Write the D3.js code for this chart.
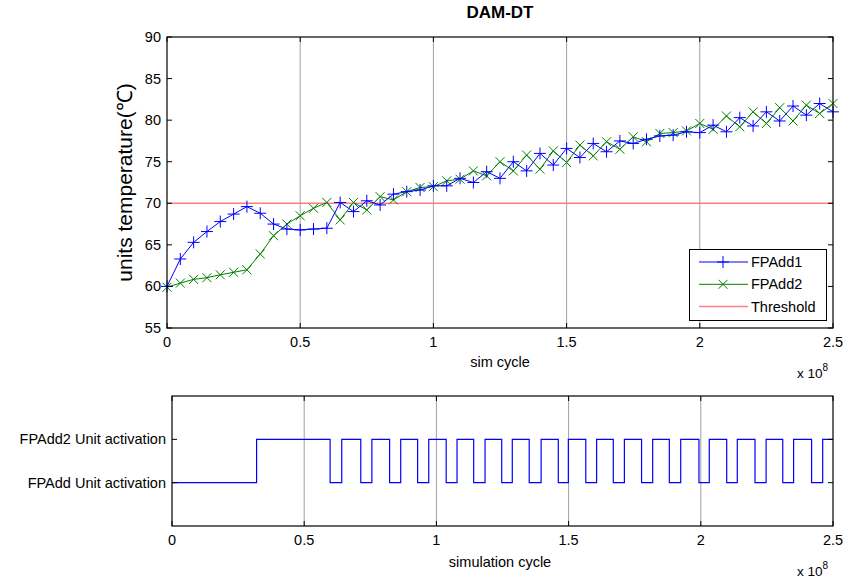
<!DOCTYPE html>
<head>
<meta charset="utf-8">
<title>DAM-DT</title>
<script src="https://d3js.org/d3.v7.min.js"></script>
<style>
body { margin: 0; background: #fff; }
text { font-family: "Liberation Sans", Arial, sans-serif; }
</style>
</head>
<body>
<div id="container"></div>
<script>
//----------------------------DATA------------------------------//
// sample points, in units of 1e8 cycles
const cycles = [0, 0.05, 0.1, 0.15, 0.2, 0.25, 0.3, 0.35, 0.4, 0.45,
  0.5, 0.55, 0.6, 0.65, 0.7, 0.75, 0.8, 0.85, 0.9, 0.95,
  1.0, 1.05, 1.1, 1.15, 1.2, 1.25, 1.3, 1.35, 1.4, 1.45,
  1.5, 1.55, 1.6, 1.65, 1.7, 1.75, 1.8, 1.85, 1.9, 1.95,
  2.0, 2.05, 2.1, 2.15, 2.2, 2.25, 2.3, 2.35, 2.4, 2.45, 2.5];
const fpadd1 = [60.0, 63.3, 65.3, 66.6, 67.8, 68.7, 69.6, 68.8, 67.5, 66.9,
  66.8, 66.9, 67.0, 70.1, 69.0, 70.3, 69.8, 71.1, 71.4, 71.6,
  72.1, 72.1, 73.0, 72.5, 73.8, 73.0, 75.0, 73.9, 76.0, 74.6,
  76.6, 75.5, 77.2, 76.2, 77.5, 77.2, 77.7, 78.1, 78.2, 78.6,
  78.5, 79.4, 78.6, 80.3, 79.3, 81.0, 79.9, 81.7, 80.6, 82.0, 81.0];
const fpadd2 = [59.9, 60.4, 60.85, 61.05, 61.4, 61.7, 62.0, 63.9, 66.1, 67.5,
  68.5, 69.4, 70.1, 68.0, 70.1, 69.2, 70.8, 70.4, 71.4, 71.9,
  72.0, 72.7, 72.9, 73.9, 73.3, 75.0, 73.9, 75.8, 74.1, 76.3,
  74.9, 77.0, 75.7, 77.4, 76.5, 78.0, 77.4, 78.4, 78.5, 78.7,
  79.6, 78.9, 80.5, 79.2, 81.0, 79.6, 81.5, 79.9, 81.8, 80.8, 82.0];
const threshold = 70;

// activation switching times (1e8 cycles) and the unit that is active after each
const switchTimes = [0, 0.32, 0.598, 0.642, 0.714, 0.756, 0.823, 0.865, 0.929, 0.971,
  1.037, 1.078, 1.141, 1.184, 1.247, 1.287, 1.351, 1.396, 1.461, 1.499,
  1.565, 1.606, 1.669, 1.711, 1.776, 1.818, 1.881, 1.924, 1.993, 2.032,
  2.098, 2.138, 2.205, 2.247, 2.310, 2.351, 2.419, 2.461, 2.5];
const activeUnit = [1, 2, 1, 2, 1, 2, 1, 2, 1, 2,
  1, 2, 1, 2, 1, 2, 1, 2, 1, 2,
  1, 2, 1, 2, 1, 2, 1, 2, 1, 2,
  1, 2, 1, 2, 1, 2, 1, 2, 2];

const xTicks = [0, 0.5, 1, 1.5, 2, 2.5];
const yTicksTop = [55, 60, 65, 70, 75, 80, 85, 90];
const unitTicks = [1, 2];
const unitLabels = {1: "FPAdd Unit activation", 2: "FPAdd2 Unit activation"};
const legendNames = ["FPAdd1", "FPAdd2", "Threshold"];

//----------------------------SVG-------------------------------//
const W = 849, H = 580;
const svg = d3.select("#container").append("svg")
    .attr("width", W).attr("height", H);

const top1 = {l: 167, r: 833, t: 37, b: 328};
const bot = {l: 172, r: 833, t: 396, b: 526};

const x1 = d3.scaleLinear().domain([0, 2.5]).range([top1.l, top1.r]);
const y1 = d3.scaleLinear().domain([55, 90]).range([top1.b, top1.t]);
const x2 = d3.scaleLinear().domain([0, 2.5]).range([bot.l, bot.r]);
const y2 = d3.scaleLinear().domain([0, 3]).range([bot.b, bot.t]);

const blue = "#0000ff", green = "#008000", pink = "#ff7f7f";
const fs = 14.5;

function grid(x, box) {
  svg.append("g").selectAll("line").data(xTicks.slice(1, -1)).enter().append("line")
      .attr("x1", d => x(d)).attr("x2", d => x(d))
      .attr("y1", box.t).attr("y2", box.b)
      .attr("stroke", "#a0a0a0").attr("stroke-width", 1);
}

function axes(x, y, box, yt, yfmt) {
  const g = svg.append("g");
  const tl = 5;
  // inward ticks on all four sides
  xTicks.forEach(function(d) {
    g.append("line").attr("x1", x(d)).attr("x2", x(d))
        .attr("y1", box.b).attr("y2", box.b - tl).attr("stroke", "#000");
    g.append("line").attr("x1", x(d)).attr("x2", x(d))
        .attr("y1", box.t).attr("y2", box.t + tl).attr("stroke", "#000");
    g.append("text").attr("x", x(d)).attr("y", box.b + 19)
        .attr("text-anchor", "middle").attr("font-size", fs).text(d);
  });
  yt.forEach(function(d) {
    g.append("line").attr("x1", box.l).attr("x2", box.l + tl)
        .attr("y1", y(d)).attr("y2", y(d)).attr("stroke", "#000");
    g.append("line").attr("x1", box.r).attr("x2", box.r - tl)
        .attr("y1", y(d)).attr("y2", y(d)).attr("stroke", "#000");
    g.append("text").attr("x", box.l - 6).attr("y", y(d) + 5)
        .attr("text-anchor", "end").attr("font-size", fs).text(yfmt(d));
  });
  g.append("rect").attr("x", box.l).attr("y", box.t)
      .attr("width", box.r - box.l).attr("height", box.b - box.t)
      .attr("fill", "none").attr("stroke", "#000").attr("stroke-width", 1.2);
  // x 10^8 multiplier
  const m = g.append("text").attr("x", box.r - 36).attr("y", box.b + 50)
      .attr("font-size", 13.5);
  m.append("tspan").text("x 10");
  m.append("tspan").attr("dy", -7).attr("font-size", 10).text("8");
  return g;
}

//--------------------------TOP PLOT----------------------------//
grid(x1, top1);

svg.append("line")
    .attr("x1", x1(0)).attr("x2", x1(2.5))
    .attr("y1", y1(threshold)).attr("y2", y1(threshold))
    .attr("stroke", pink).attr("stroke-width", 1.5);

const line = d3.line()
    .x((d, i) => x1(cycles[i]))
    .y(d => y1(d));

svg.append("path").attr("d", line(fpadd2))
    .attr("fill", "none").attr("stroke", green).attr("stroke-width", 1);
svg.append("path").attr("d", line(fpadd1))
    .attr("fill", "none").attr("stroke", blue).attr("stroke-width", 1);

const mk = 4.5;
svg.append("g").selectAll("path").data(fpadd2).enter().append("path")
    .attr("transform", (d, i) => "translate(" + x1(cycles[i]) + "," + y1(d) + ")")
    .attr("d", "M" + (-mk) + "," + (-mk) + "L" + mk + "," + mk + "M" + (-mk) + "," + mk + "L" + mk + "," + (-mk))
    .attr("stroke", green).attr("fill", "none");
svg.append("g").selectAll("path").data(fpadd1).enter().append("path")
    .attr("transform", (d, i) => "translate(" + x1(cycles[i]) + "," + y1(d) + ")")
    .attr("d", "M-6,0L6,0M0,-6L0,6")
    .attr("stroke", blue).attr("fill", "none");

axes(x1, y1, top1, yTicksTop, d => d);

svg.append("text").attr("x", 500).attr("y", 18)
    .attr("text-anchor", "middle").attr("font-size", 17)
    .attr("font-weight", "bold").text("DAM-DT");
svg.append("text").attr("x", 500).attr("y", 367)
    .attr("text-anchor", "middle").attr("font-size", fs).text("sim cycle");
svg.append("text")
    .attr("transform", "translate(132," + ((top1.t + top1.b) / 2) + ") rotate(-90)")
    .attr("text-anchor", "middle").attr("font-size", 21)
    .text("units temperature(℃)");

// legend
const lg = svg.append("g");
lg.append("rect").attr("x", 689.5).attr("y", 249.5).attr("width", 137).attr("height", 71)
    .attr("fill", "#fff").attr("stroke", "#000").attr("stroke-width", 1);
const legendColors = [blue, green, pink];
legendNames.forEach(function(n, i) {
  const yy = 262 + i * 22.3;
  lg.append("line").attr("x1", 699).attr("x2", 748).attr("y1", yy).attr("y2", yy)
      .attr("stroke", legendColors[i]).attr("stroke-width", i === 2 ? 1.5 : 1);
  if (i === 0) lg.append("path").attr("transform", "translate(723," + yy + ")")
      .attr("d", "M-6,0L6,0M0,-6L0,6").attr("stroke", blue);
  if (i === 1) lg.append("path").attr("transform", "translate(723," + yy + ")")
      .attr("d", "M-4.5,-4.5L4.5,4.5M-4.5,4.5L4.5,-4.5").attr("stroke", green);
  lg.append("text").attr("x", 751).attr("y", yy + 5)
      .attr("font-size", fs).text(n);
});

//-------------------------BOTTOM PLOT--------------------------//
grid(x2, bot);

const step = d3.line()
    .x(d => x2(d[0])).y(d => y2(d[1]))
    .curve(d3.curveStepAfter);
svg.append("path")
    .attr("d", step(switchTimes.map((t, i) => [t, activeUnit[i]])))
    .attr("fill", "none").attr("stroke", blue).attr("stroke-width", 1.2);

axes(x2, y2, bot, unitTicks, d => unitLabels[d]);

svg.append("text").attr("x", 500).attr("y", 567)
    .attr("text-anchor", "middle").attr("font-size", fs).text("simulation cycle");
</script>
</body>
